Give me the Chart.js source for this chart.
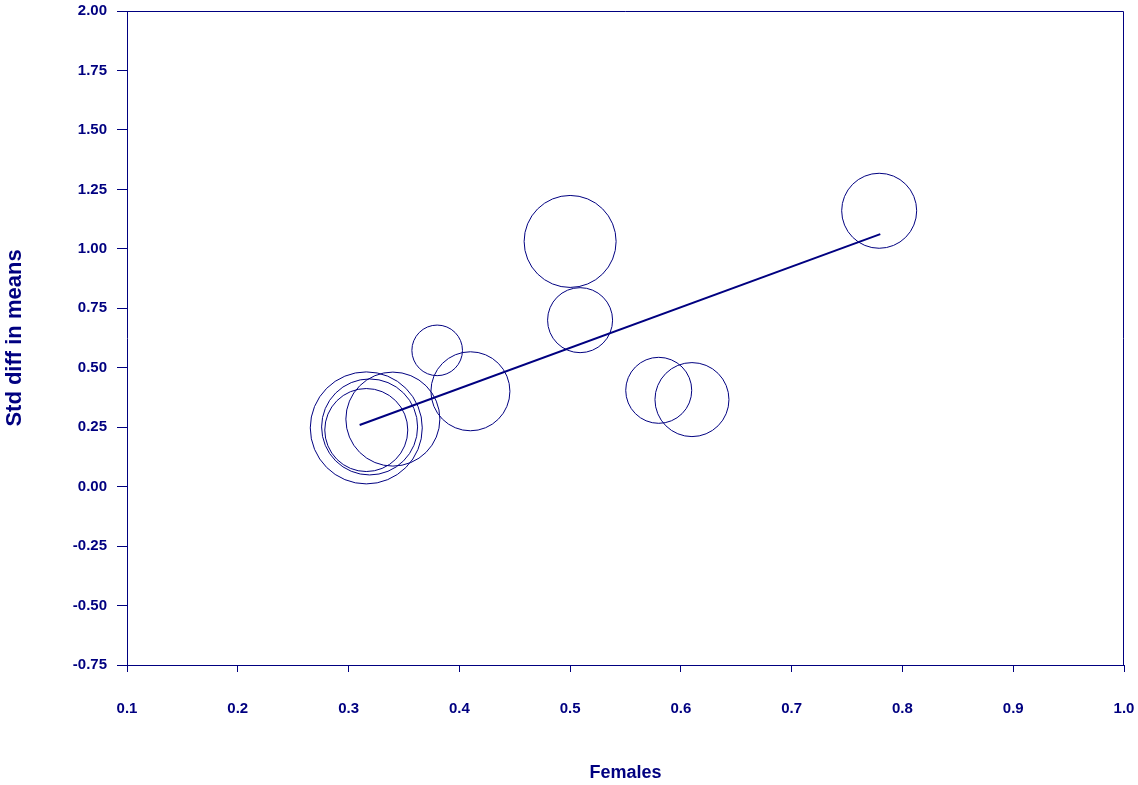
<!DOCTYPE html>
<html>
<head>
<meta charset="utf-8">
<title>Std diff in means vs Females</title>
<script src="https://cdn.jsdelivr.net/npm/chart.js@4"></script>
<style>
  html, body { margin: 0; padding: 0; background: #fff; }
  #chart { display: block; }
</style>
</head>
<body>
<canvas id="chart" width="1138" height="785"></canvas>
<script>
// Meta-regression bubble plot: study effect vs proportion of females.
// Values.

const studyX = [0.779, 0.500, 0.509, 0.380, 0.410, 0.580, 0.610, 0.316, 0.340, 0.319, 0.316];
const studyY = [1.160, 1.031, 0.700, 0.573, 0.401, 0.405, 0.366, 0.247, 0.284, 0.251, 0.238];
// relative study weights (bubble size)
const studyWeight = [37.5, 46, 32.5, 25.3, 39.5, 33, 37, 56, 47, 48, 41.5];

// regression line end points
const lineX = [0.31, 0.78];
const lineY = [0.259, 1.062];

const xTickMin = 0.1, xTickMax = 1.0, xStep = 0.1;
const yTickMin = -0.75, yTickMax = 2.0, yStep = 0.25;

const NAVY = '#000080';
const RADIUS_PER_WEIGHT = 1;
const FONT = 'Arial, "Liberation Sans", sans-serif';

const bubbles = studyX.map((x, i) => ({ x, y: studyY[i], r: studyWeight[i] * RADIUS_PER_WEIGHT }));
const regLine = lineX.map((x, i) => ({ x, y: lineY[i] }));

// plot frame (top + right edges; left/bottom come from the axes)
const framePlugin = {
  id: 'frame',
  afterDraw(chart) {
    const { ctx, chartArea: a } = chart;
    ctx.save();
    ctx.strokeStyle = NAVY;
    ctx.lineWidth = 1;
    ctx.beginPath();
    ctx.moveTo(a.left, a.top + 0.5);
    ctx.lineTo(a.right - 0.5, a.top + 0.5);
    ctx.lineTo(a.right - 0.5, a.bottom);
    ctx.stroke();
    ctx.restore();
  }
};

new Chart(document.getElementById('chart'), {
  data: {
    datasets: [
      {
        type: 'bubble',
        data: bubbles,
        backgroundColor: 'rgba(0,0,0,0)',
        borderColor: NAVY,
        borderWidth: 1,
        hoverRadius: 0,
        hoverBorderWidth: 1,
      },
      {
        type: 'line',
        data: regLine,
        borderColor: NAVY,
        borderWidth: 2,
        pointRadius: 0,
        fill: false,
      },
    ],
  },
  options: {
    responsive: false,
    animation: false,
    layout: { autoPadding: false, padding: { top: 11, right: 14, left: 0, bottom: 0 } },
    plugins: { legend: { display: false }, tooltip: { enabled: false } },
    scales: {
      x: {
        type: 'linear',
        min: xTickMin,
        max: xTickMax,
        afterFit: (s) => { s.height = 120; s.paddingLeft = 0; s.paddingRight = 0; },
        ticks: {
          stepSize: xStep,
          color: NAVY,
          padding: 28,
          maxRotation: 0,
          font: { family: FONT, size: 15, weight: 'bold' },
          callback: (v) => Number(v).toFixed(1),
        },
        grid: { drawOnChartArea: false, drawTicks: true, tickLength: 7, color: NAVY },
        border: { display: true, color: NAVY, width: 1 },
        title: {
          display: true,
          text: 'Females',
          color: NAVY,
          padding: { top: 0, bottom: 1 },
          font: { family: FONT, size: 18, weight: 'bold' },
        },
      },
      y: {
        type: 'linear',
        min: yTickMin,
        max: yTickMax,
        afterFit: (s) => { s.width = 127; s.paddingTop = 0; s.paddingBottom = 0; },
        ticks: {
          stepSize: yStep,
          color: NAVY,
          padding: 10,
          font: { family: FONT, size: 15, weight: 'bold' },
          callback: (v) => Number(v).toFixed(2),
        },
        grid: { drawOnChartArea: false, drawTicks: true, tickLength: 10, color: NAVY },
        border: { display: true, color: NAVY, width: 1 },
        title: {
          display: true,
          text: 'Std diff in means',
          color: NAVY,
          padding: { top: 2, bottom: 0 },
          font: { family: FONT, size: 22, weight: 'bold' },
        },
      },
    },
  },
  plugins: [framePlugin],
});
</script>
</body>
</html>
